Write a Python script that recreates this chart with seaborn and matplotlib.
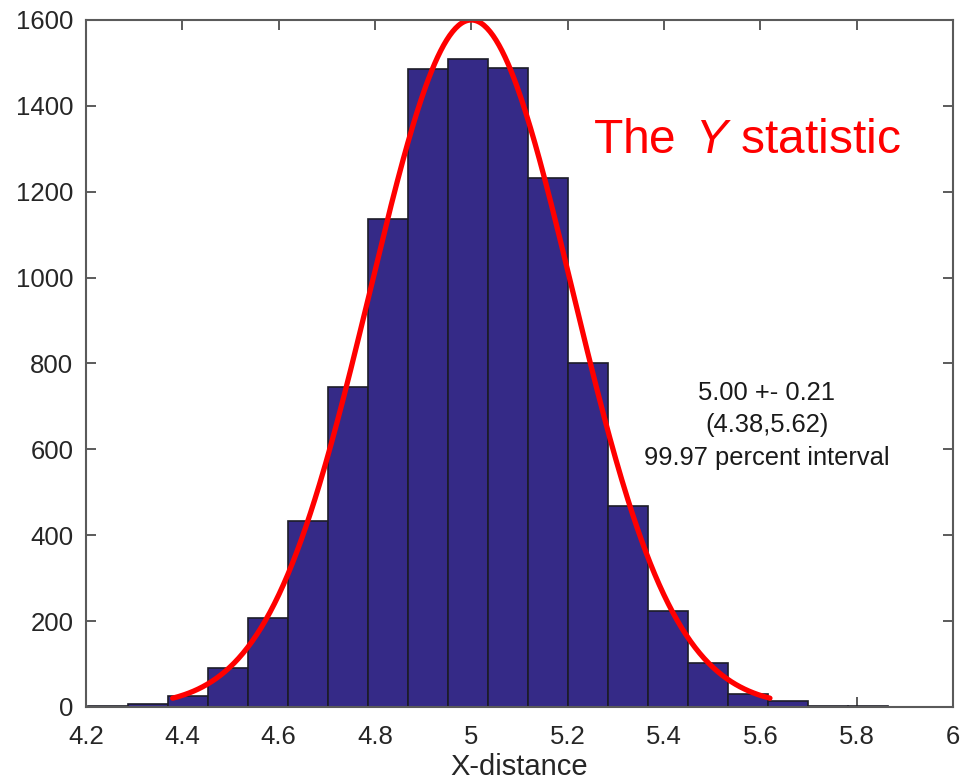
import numpy as np
import pandas as pd
import matplotlib
matplotlib.use("Agg")
import matplotlib.pyplot as plt
import seaborn as sns

# ---- data ----
bin_start = 4.205
bin_width = 0.083
counts = [2, 8, 26, 91, 208, 433, 745, 1136, 1485, 1508,
          1487, 1232, 800, 467, 223, 103, 31, 13, 3, 2]
# fitted normal curve drawn over the histogram
fit_mean = 5.00
fit_sd = 0.21
fit_peak = 1600
fit_range = (4.38, 5.62)
xticks = [4.2, 4.4, 4.6, 4.8, 5.0, 5.2, 5.4, 5.6, 5.8, 6.0]
xtick_labels = ["4.2", "4.4", "4.6", "4.8", "5", "5.2", "5.4", "5.6", "5.8", "6"]
yticks = [0, 200, 400, 600, 800, 1000, 1200, 1400, 1600]
title_text = "The $\\,\\mathit{Y}$ statistic"
note_text = "5.00 +- 0.21\n(4.38,5.62)\n99.97 percent interval"
xlabel = "X-distance"

sns.set_theme(style="white")
plt.rcParams["font.family"] = ["Liberation Sans", "DejaVu Sans"]
plt.rcParams["mathtext.fontset"] = "custom"
plt.rcParams["mathtext.rm"] = "Liberation Sans"
plt.rcParams["mathtext.it"] = "Liberation Sans:italic"

edges = [bin_start + bin_width * i for i in range(len(counts) + 1)]
centers = [(edges[i] + edges[i + 1]) / 2 for i in range(len(counts))]
df = pd.DataFrame({"x": centers, "w": counts})

fig = plt.figure(figsize=(9.63, 7.83), dpi=100)
ax = fig.add_axes([0.0893, 0.0971, 0.9003, 0.8774])

sns.histplot(data=df, x="x", weights="w", bins=edges, ax=ax,
             color="#352A87", alpha=1.0, edgecolor="#1c1c28", linewidth=1.2)

xs = np.linspace(fit_range[0], fit_range[1], 400)
ys = fit_peak * np.exp(-0.5 * ((xs - fit_mean) / fit_sd) ** 2)
sns.lineplot(x=xs, y=ys, ax=ax, color="#ff0000", linewidth=3.8, sort=False)

ax.set_xlim(4.2, 6.0)
ax.set_ylim(0, 1600)
ax.set_xticks(xticks)
ax.set_xticklabels(xtick_labels)
ax.set_yticks(yticks)
ax.set_xlabel(xlabel, fontsize=21, color="#262626", labelpad=3)
ax.set_ylabel("")
ax.tick_params(axis="both", which="both", direction="in", length=7, width=1.2,
               colors="#404040", labelcolor="#262626", labelsize=18.5,
               top=True, right=True, bottom=True, left=True)
ax.tick_params(axis="x", pad=13)
ax.tick_params(axis="y", pad=9)
for s in ax.spines.values():
    s.set_visible(True)
    s.set_color("#5a5a5a")
    s.set_linewidth(1.5)

ax.text(0.763, 0.825, title_text, transform=ax.transAxes, fontsize=34.5,
        color="#ff0000", ha="center", va="center")
ax.text(0.785, 0.41, note_text, transform=ax.transAxes, fontsize=18.4,
        color="#1a1a1a", ha="center", va="center", linespacing=1.45)

fig.savefig("out.png", dpi=100)
